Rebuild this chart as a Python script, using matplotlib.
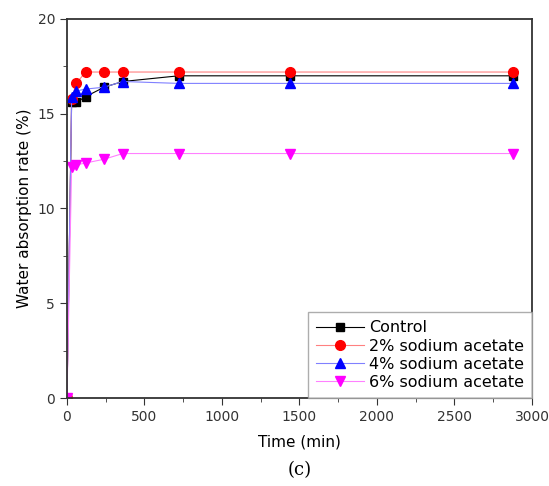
import matplotlib.pyplot as plt
from matplotlib.ticker import MultipleLocator

# Time points (min) and water absorption rate (%)
time_min = [0, 30, 60, 120, 240, 360, 720, 1440, 2880]
control = [0, 15.6, 15.6, 15.9, 16.4, 16.7, 17.0, 17.0, 17.0]
acetate_2 = [0, 15.8, 16.6, 17.2, 17.2, 17.2, 17.2, 17.2, 17.2]
acetate_4 = [0, 15.9, 16.2, 16.3, 16.4, 16.7, 16.6, 16.6, 16.6]
acetate_6 = [0, 12.2, 12.3, 12.4, 12.6, 12.9, 12.9, 12.9, 12.9]

labels = ["Control", "2% sodium acetate", "4% sodium acetate", "6% sodium acetate"]

fig = plt.figure(figsize=(5.49, 4.86), dpi=100)
ax = fig.add_axes([0.122, 0.181, 0.847, 0.780])

ax.plot(time_min, control, c="black", lw=0.8, marker="s", ms=6, label=labels[0])
ax.plot(time_min, acetate_2, c="#ff8080", lw=0.8, marker="o", ms=7,
        mfc="red", mec="red", label=labels[1])
ax.plot(time_min, acetate_4, c="#8080ff", lw=0.8, marker="^", ms=7,
        mfc="blue", mec="blue", label=labels[2])
ax.plot(time_min, acetate_6, c="#ff80ff", lw=0.8, marker="v", ms=7,
        mfc="magenta", mec="magenta", label=labels[3])

ax.set_xlim(0, 3000)
ax.set_ylim(0, 20)
ax.xaxis.set_major_locator(MultipleLocator(500))
ax.xaxis.set_minor_locator(MultipleLocator(250))
ax.yaxis.set_major_locator(MultipleLocator(5))
ax.yaxis.set_minor_locator(MultipleLocator(2.5))
ax.tick_params(which="both", direction="out", top=False, right=False,
               labelsize=10, colors="#333333")
ax.tick_params(which="major", length=5)
ax.tick_params(which="minor", length=3)
for s in ax.spines.values():
    s.set_linewidth(1.3)
    s.set_color("#333333")

ax.set_xlabel("Time (min)", fontsize=11, labelpad=8)
ax.set_ylabel("Water absorption rate (%)", fontsize=11)

leg = ax.legend(loc="lower right", fontsize=11.5, frameon=True, fancybox=False,
                borderaxespad=0, handlelength=3.0, labelspacing=0.2,
                borderpad=0.5, handletextpad=0.3)
leg.get_frame().set_edgecolor("#999999")
leg.get_frame().set_linewidth(1)

fig.text(0.545, 0.032, "(c)", ha="center", va="center", fontsize=13, family="serif")

plt.savefig("out.png", dpi=100)
